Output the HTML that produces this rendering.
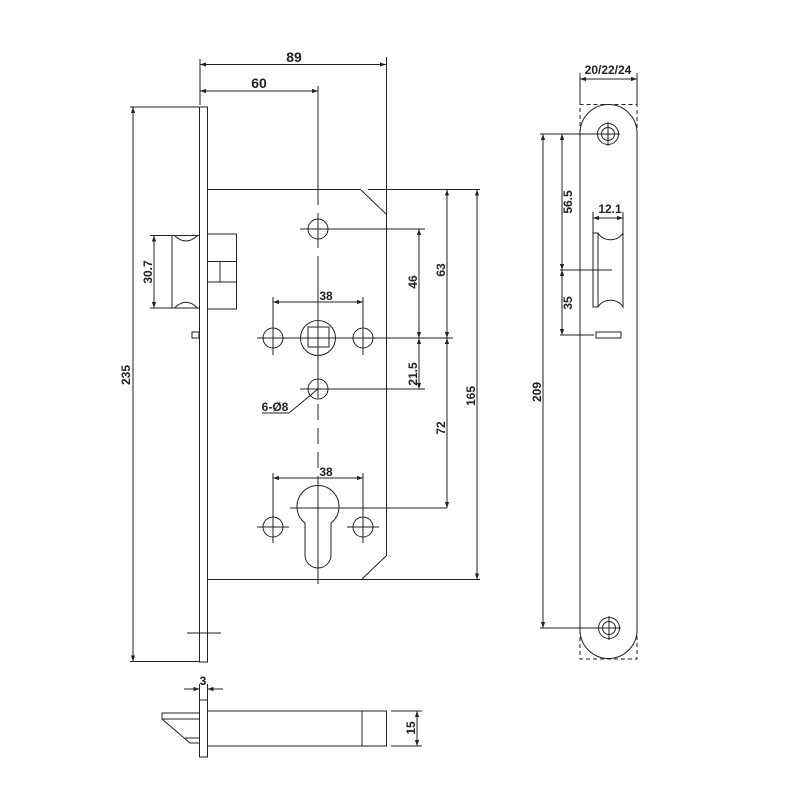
<!DOCTYPE html>
<html><head><meta charset="utf-8"><style>
html,body{margin:0;padding:0;background:#fff;}
svg{display:block;}
text{font-family:"Liberation Sans",sans-serif;font-weight:bold;fill:#222;}
</style></head><body>
<svg width="798" height="798" viewBox="0 0 798 798" xmlns="http://www.w3.org/2000/svg">
<defs>
<marker id="a" viewBox="0 0 10 10" refX="10" refY="5" markerWidth="6" markerHeight="6" orient="auto-start-reverse" markerUnits="userSpaceOnUse">
<path d="M0,1.5 L10,5 L0,8.5 Z" fill="#222"/></marker>
</defs>
<g stroke="#222" stroke-width="1" fill="none">
<rect x="199.5" y="107" width="8" height="555"/>
<path d="M207.5 189.5 H361 M368 189.5 H480 M361 190 L386 214"/>
<path d="M386.5 57 V556"/>
<path d="M386 556 L362 579 M207.5 579.5 H371 M371 579.5 H480"/>
<path d="M318 86 V205 M318 213 V248 M318 256 V398 M318 404 V420 M318 428 V444 M318 452 V468 M318 476 V584" />
<circle cx="318" cy="229" r="10"/><path d="M300 229 H425"/>
<circle cx="318" cy="338" r="17.5"/>
<rect x="308" y="327" width="21" height="20"/>
<path d="M315 338 h6 M318 335 v6"/>
<path d="M257 338 H453"/>
<circle cx="273" cy="338" r="10"/><circle cx="363" cy="338" r="10"/>
<path d="M273 297 V355 M363 297 V355"/>
<path d="M273 302 H363" marker-start="url(#a)" marker-end="url(#a)"/>
<circle cx="318" cy="389" r="10"/><path d="M300 389 H425"/>
<path d="M318 389 L289 413 H262"/>
<path d="M305 523 A21 21 0 1 1 331 523 V555 A13 13 0 0 1 305 555 Z"/>
<path d="M290 508 H447"/>
<circle cx="273" cy="527" r="10"/><circle cx="363" cy="527" r="10"/>
<path d="M257 527 H289 M347 527 H379 M273 473 V543 M363 473 V543"/>
<path d="M273 478 H363" marker-start="url(#a)" marker-end="url(#a)"/>
<path d="M419 229 V338" marker-start="url(#a)" marker-end="url(#a)"/>
<path d="M419 338 V389" marker-start="url(#a)" marker-end="url(#a)"/>
<path d="M447 189.5 V338" marker-start="url(#a)" marker-end="url(#a)"/>
<path d="M447 338 V508" marker-start="url(#a)" marker-end="url(#a)"/>
<path d="M477 189.5 V579.5" marker-start="url(#a)" marker-end="url(#a)"/>
<path d="M200 59 V105"/>
<path d="M200 64.5 H386" marker-start="url(#a)" marker-end="url(#a)"/>
<path d="M200 91 H318" marker-start="url(#a)" marker-end="url(#a)"/>
<path d="M172 235.5 H199 M172 308 H199 M172 235.5 V308"/>
<path d="M175 236 Q186 246 197 236 M175 307.5 Q186 297 197 307.5"/>
<rect x="207.5" y="234" width="29" height="75"/>
<path d="M207.5 261.5 H236.5 M207.5 282 H236.5 M220 261.5 V282"/>
<path d="M150 235.5 H172 M150 308 H172"/>
<path d="M154 235.5 V308" marker-start="url(#a)" marker-end="url(#a)"/>
<rect x="192" y="332" width="7" height="6"/>
<path d="M130 107 H200 M130 661.5 H200"/>
<path d="M133 107 V661.5" marker-start="url(#a)" marker-end="url(#a)"/>
<path d="M187 633 H221"/>
<path d="M199.5 684 V700 M207.5 684 V700"/>
<path d="M184 689 H199.5" marker-end="url(#a)"/>
<path d="M223 689 H207.5" marker-end="url(#a)"/>
<rect x="199.5" y="700" width="8" height="57"/>
<rect x="207.5" y="711" width="179" height="35"/>
<path d="M362 711 V746"/>
<path d="M199.5 713 H162 V719 L190 743 H199.5 M162 719 H199.5 M185 738 H199.5"/>
<path d="M391 711 H422 M391 746 H422"/>
<path d="M417 711 V746" marker-start="url(#a)" marker-end="url(#a)"/>
<path d="M580 133 A28.5 28.5 0 0 1 637 133 V630 A28.5 28.5 0 0 1 580 630 Z"/>
<path d="M580 133 V104.5 H637 V133 M580 630 V659 H637 V630" stroke-dasharray="4,3"/>
<path d="M580 73 V104 M637 73 V104"/>
<path d="M580 79 H637" marker-start="url(#a)" marker-end="url(#a)"/>
<circle cx="608" cy="134" r="10.5"/><circle cx="608" cy="134" r="6.5"/>
<path d="M597 134 H620 M608 122 V146"/>
<circle cx="609" cy="628" r="10.5"/><circle cx="609" cy="628" r="6.5"/>
<path d="M598 628 H621 M609 616 V640"/>
<path d="M540 134 H600 M540 628 H600"/>
<path d="M543 134 V628" marker-start="url(#a)" marker-end="url(#a)"/>
<path d="M562 134 V270" marker-start="url(#a)" marker-end="url(#a)"/>
<path d="M562 270 V335" marker-start="url(#a)" marker-end="url(#a)"/>
<path d="M560 270 H612 M560 335 H594"/>
<rect x="596" y="332" width="25" height="6"/>
<path d="M593 233 H598 V307 H593 Z"/>
<path d="M598 233 C603 242 618 242 623 233 V307 C618 298 603 298 598 307"/>
<path d="M593 212 V233 M623 212 V233"/>
<path d="M593 218 H623" marker-start="url(#a)" marker-end="url(#a)"/>
</g>
<g font-size="12">
<text x="294" y="62" text-anchor="middle" font-size="14">89</text>
<text x="259" y="88" text-anchor="middle" font-size="14">60</text>
<text x="326" y="300" text-anchor="middle">38</text>
<text x="326" y="476" text-anchor="middle">38</text>
<text x="275" y="411" text-anchor="middle">6-Ø8</text>
<text x="203" y="685" text-anchor="middle">3</text>
<text x="608" y="74" text-anchor="middle">20/22/24</text>
<text x="610" y="213" text-anchor="middle">12.1</text>
<text transform="translate(152,272) rotate(-90)" text-anchor="middle">30.7</text>
<text transform="translate(130,375) rotate(-90)" text-anchor="middle">235</text>
<text transform="translate(417,282) rotate(-90)" text-anchor="middle">46</text>
<text transform="translate(445,270) rotate(-90)" text-anchor="middle">63</text>
<text transform="translate(417,374) rotate(-90)" text-anchor="middle">21.5</text>
<text transform="translate(445,428) rotate(-90)" text-anchor="middle">72</text>
<text transform="translate(475,396) rotate(-90)" text-anchor="middle">165</text>
<text transform="translate(415,728) rotate(-90)" text-anchor="middle">15</text>
<text transform="translate(572,202) rotate(-90)" text-anchor="middle">56.5</text>
<text transform="translate(572,303) rotate(-90)" text-anchor="middle">35</text>
<text transform="translate(541,392) rotate(-90)" text-anchor="middle">209</text>
</g>
</svg>
</body></html>
